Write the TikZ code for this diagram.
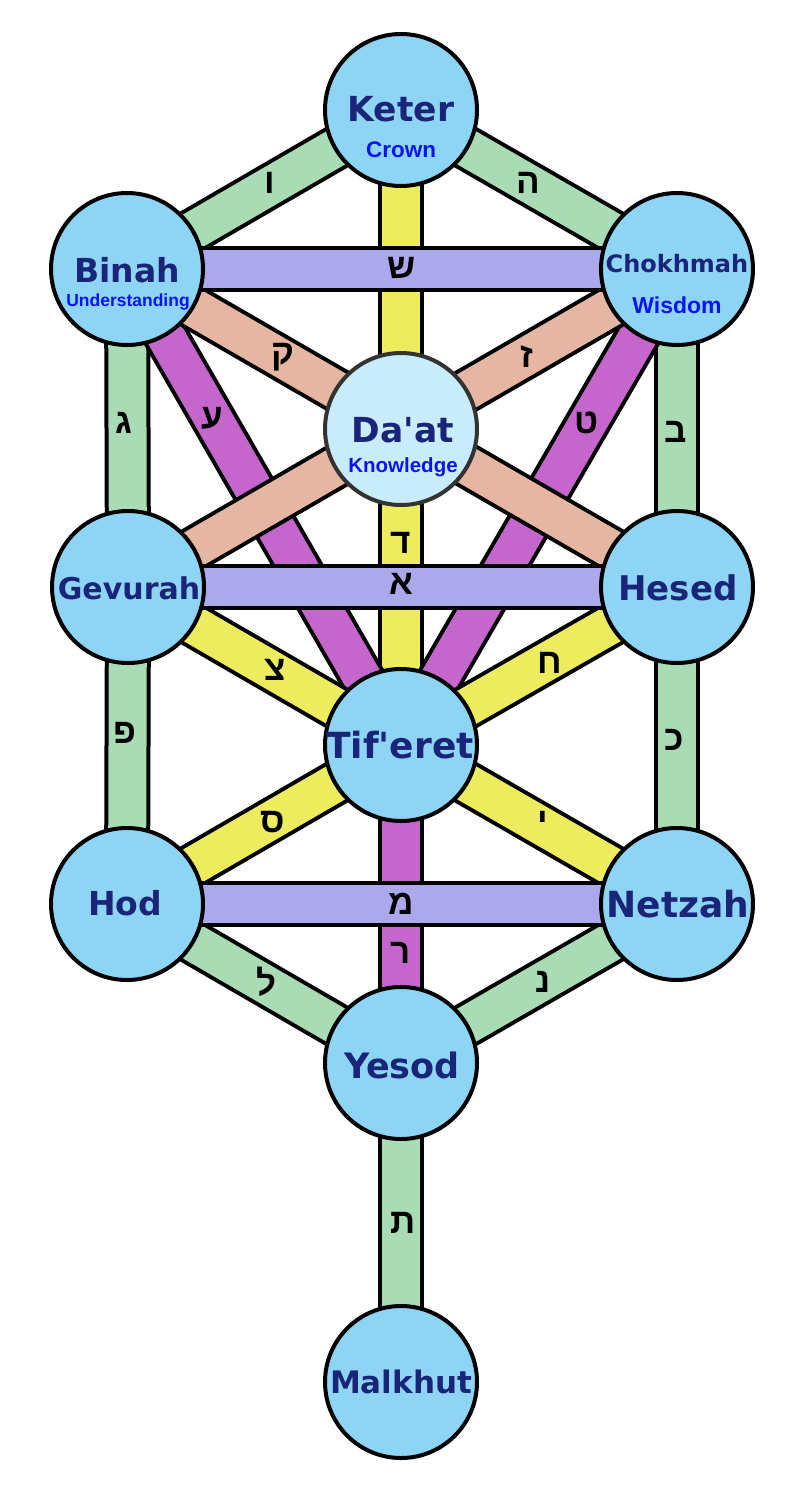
\documentclass[tikz,border=0pt]{standalone}
\usepackage{fontspec}
\usepackage{graphicx}
\newfontfamily\labfont{DejaVu Sans}
\newfontfamily\subfont{Liberation Sans}
\newfontfamily\hebfont[Script=Hebrew]{Liberation Sans}
\definecolor{sefblue}{HTML}{8ED5F5}
\definecolor{daatblue}{HTML}{C9ECFA}
\definecolor{labnavy}{HTML}{1A2478}
\definecolor{subblue}{HTML}{0A14F0}
\definecolor{pgreen}{HTML}{A9DBB4}
\definecolor{pyellow}{HTML}{EDEC5E}
\definecolor{ppurple}{HTML}{ABA9EC}
\definecolor{pmagenta}{HTML}{C466CC}
\definecolor{psalmon}{HTML}{E5B6A2}
\newcommand\pathband[3]{%
  \draw[line width=46pt,draw=black] (#1) -- (#2);
  \draw[line width=38pt,draw=#3] (#1) -- (#2);}
\tikzset{
  sef/.style={circle,draw=black,line width=4pt,fill=sefblue,minimum size=152pt,inner sep=0pt},
  daat/.style={sef,fill=daatblue,draw=black!80},
  lab/.style={anchor=base,inner sep=0pt,text=labnavy,font=\labfont\bfseries\fontsize{#1}{#1}\selectfont},
  sub/.style={anchor=base,inner sep=0pt,text=subblue,font=\subfont\bfseries\fontsize{#1}{#1}\selectfont},
  heb/.style={inner sep=0pt,text=black,font=\hebfont\bfseries\fontsize{35}{35}\selectfont}
}
\begin{document}
\begin{tikzpicture}[x=1pt,y=-1pt]
\useasboundingbox[fill=white] (0,0) rectangle (800,1490);
% centres of the sefirot
\coordinate (K) at (401,110);
\coordinate (B) at (127,269);
\coordinate (C) at (677,269);
\coordinate (D) at (401,429);
\coordinate (G) at (128,587);
\coordinate (H) at (677,587);
\coordinate (T) at (401,745);
\coordinate (O) at (127,904);
\coordinate (N) at (677,904);
\coordinate (Y) at (401,1063);
\coordinate (M) at (401,1382);
% green paths
\pathband{K}{B}{pgreen}
\pathband{K}{C}{pgreen}
\pathband{B}{G}{pgreen}
\pathband{C}{H}{pgreen}
\pathband{G}{O}{pgreen}
\pathband{H}{N}{pgreen}
\pathband{O}{Y}{pgreen}
\pathband{N}{Y}{pgreen}
\pathband{Y}{M}{pgreen}
% yellow vertical
\pathband{K}{T}{pyellow}
% magenta
\pathband{B}{T}{pmagenta}
\pathband{C}{T}{pmagenta}
\pathband{T}{Y}{pmagenta}
% yellow diagonals
\pathband{G}{T}{pyellow}
\pathband{H}{T}{pyellow}
\pathband{T}{O}{pyellow}
\pathband{T}{N}{pyellow}
% salmon
\pathband{B}{H}{psalmon}
\pathband{C}{G}{psalmon}
% purple horizontals
\pathband{B}{C}{ppurple}
\pathband{G}{H}{ppurple}
\pathband{O}{N}{ppurple}
% letters
\node[heb] (l1) at (270,183) {ו};
\node[heb] (l2) at (528,183) {ה};
\node[heb] (l3) at (402,268) {ש};
\node[heb] (l4) at (283,357) {ק};
\node[heb] (l5) at (527,357) {ז};
\node[heb] (l6) at (212,418) {ע};
\node[heb] (l7) at (587,423) {ט};
\node[heb] (l8) at (124,423) {ג};
\node[heb] (l9) at (676,432) {ב};
\node[heb] (l10) at (401,543) {ד};
\node[heb] (l11) at (401,584) {א};
\node[heb] (l12) at (275,670) {צ};
\node[heb] (l13) at (550,663) {ח};
\node[heb] (l14) at (125,733) {פ};
\node[heb] (l15) at (674,740) {כ};
\node[heb] (l16) at (273,822) {ס};
\node[heb] (l17) at (543,822) {י};
\node[heb] (l18) at (401,904) {מ};
\node[heb] (l19) at (401,953) {ר};
\node[heb] (l20) at (267,982) {ל};
\node[heb] (l21) at (543,982) {נ};
\node[heb] (l22) at (403,1223) {ת};
% sefirot circles
\node[sef] (keter) at (K) {};
\node[sef] (binah) at (B) {};
\node[sef] (chokhmah) at (C) {};
\node[daat] (daat) at (D) {};
\node[sef] (gevurah) at (G) {};
\node[sef] (hesed) at (H) {};
\node[sef] (tiferet) at (T) {};
\node[sef] (hod) at (O) {};
\node[sef] (netzah) at (N) {};
\node[sef] (yesod) at (Y) {};
\node[sef] (malkhut) at (M) {};
% labels
\node[lab=34.5] (tketer) at (401,121.5) {Keter};
\node[sub=22.5] (sketer) at (401,158) {Crown};
\node[lab=33] (tbinah) at (127,282) {Binah};
\node[sub=17.5] (sbinah) at (128,306) {Understanding};
\node[lab=24] (tchokhmah) at (677,272) {Chokhmah};
\node[sub=23] (schokhmah) at (677,313) {Wisdom};
\node[lab=34.5] (tdaat) at (403,442) {Da'at};
\node[sub=20.5] (sdaat) at (403,472) {Knowledge};
\node[lab=30] (tgevurah) at (129,599) {Gevurah};
\node[lab=34] (thesed) at (678,600) {Hesed};
\node[lab=36] (ttiferet) at (400,758) {Tif'eret};
\node[lab=33] (thod) at (125,915) {Hod};
\node[lab=36] (tnetzah) at (678,917) {Netzah};
\node[lab=35] (tyesod) at (402,1078) {Yesod};
\node[lab=31] (tmalkhut) at (401,1393) {Malkhut};
\end{tikzpicture}
\end{document}
